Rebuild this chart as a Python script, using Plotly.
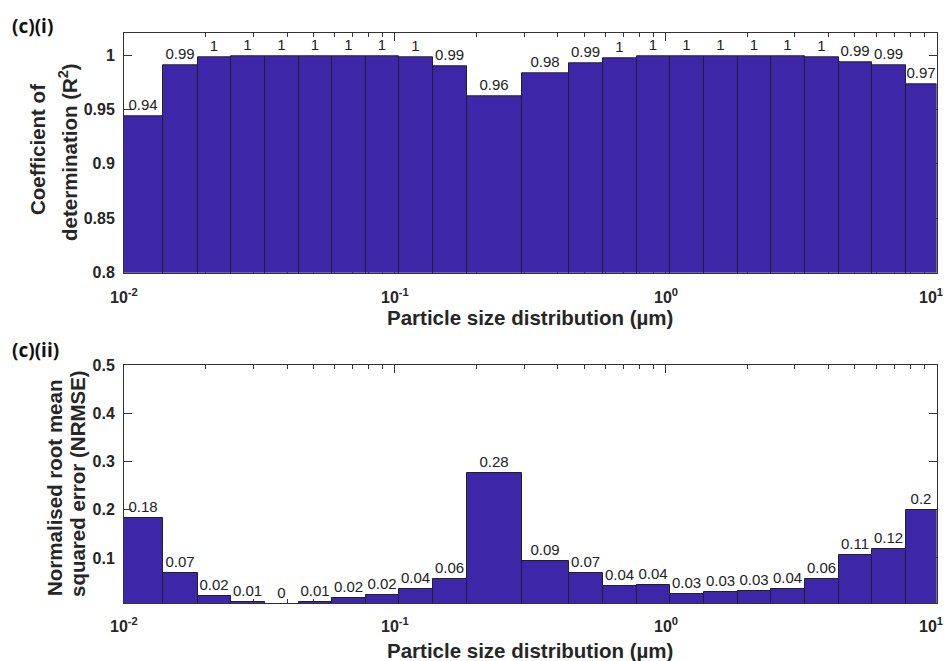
import math
import plotly.graph_objects as go

# ---------------- data ----------------
BIN_EDGES_UM = [0.01, 0.01396, 0.01872, 0.0249, 0.03317, 0.04417, 0.05878, 0.07828,
                0.1039, 0.1384, 0.1843, 0.2942, 0.4398, 0.5872, 0.7823, 1.041,
                1.386, 1.846, 2.457, 3.272, 4.357, 5.784, 7.701, 10.0]

R2_VALUES = [0.944, 0.991, 0.998, 0.999, 0.999, 0.999, 0.999, 0.999, 0.998, 0.990,
             0.962, 0.983, 0.992, 0.997, 0.999, 0.999, 0.999, 0.999, 0.999, 0.998,
             0.993, 0.991, 0.973]

NRMSE_VALUES = [0.182, 0.068, 0.021, 0.008, 0.004, 0.008, 0.016, 0.023, 0.036, 0.056,
                0.276, 0.093, 0.069, 0.042, 0.044, 0.026, 0.030, 0.032, 0.036, 0.056,
                0.106, 0.118, 0.199]

X_TICK_VALS = [0.01, 0.1, 1, 10]
X_TICK_TEXT = ["10<sup>-2</sup>", "10<sup>-1</sup>", "10<sup>0</sup>", "10<sup>1</sup>"]
R2_TICK_VALS = [0.8, 0.85, 0.9, 0.95, 1.0]
R2_TICK_TEXT = ["0.8", "0.85", "0.9", "0.95", "1"]
NRMSE_TICK_VALS = [0.1, 0.2, 0.3, 0.4, 0.5]
NRMSE_TICK_TEXT = ["0.1", "0.2", "0.3", "0.4", "0.5"]
X_MINOR_TICKS = [m * 10.0 ** e for e in (-2, -1, 0) for m in range(2, 10)]

X_TITLE = "Particle size distribution (µm)"
# ----------------------------------------------------------------

BAR_COLOR = "#3E26A8"
EDGE_COLOR = "#1f1f2e"
AXIS_COLOR = "#333333"
TEXT_COLOR = "#262626"
FONT = "Liberation Sans"

lefts = BIN_EDGES_UM[:-1]
widths = [b - a for a, b in zip(BIN_EDGES_UM[:-1], BIN_EDGES_UM[1:])]


def fmt(v):
    return f"{v:.2f}".rstrip("0").rstrip(".")


fig = go.Figure()
for vals, xa, ya in ((R2_VALUES, "x", "y"), (NRMSE_VALUES, "x2", "y2")):
    fig.add_trace(go.Bar(
        x=lefts, y=vals, width=widths, offset=0,
        marker=dict(color=BAR_COLOR, line=dict(color=EDGE_COLOR, width=1)),
        text=[fmt(v) for v in vals], textposition="outside",
        textfont=dict(family=FONT, size=15, color="#222222"),
        constraintext="none", cliponaxis=True,
        xaxis=xa, yaxis=ya, showlegend=False, hoverinfo="x+y",
    ))

# The page body has an 8px margin, so the figure is drawn 8px in from the
# window corner; size the figure to fill the rest of the 951x661 window.
OFF = 8
W, H = 951 - OFF, 661 - OFF


def px_x(p):
    return (p - OFF) / W


def px_y(p):
    return 1 - (p - OFF) / H


xdom = [px_x(124), px_x(936.5)]
top_dom = [px_y(272.7), px_y(33.3)]
bot_dom = [px_y(603.3), px_y(365)]

common_x = dict(
    type="log", range=[-2, 1], domain=xdom, automargin=False,
    showline=True, linecolor=AXIS_COLOR, linewidth=1, mirror="ticks",
    ticks="inside", ticklen=8, tickwidth=1, tickcolor=AXIS_COLOR,
    tickmode="array", tickvals=X_TICK_VALS, ticktext=X_TICK_TEXT,
    showticklabels=False,
    minor=dict(tickmode="array", tickvals=X_MINOR_TICKS, ticks="inside",
               ticklen=4, tickwidth=1, tickcolor=AXIS_COLOR, showgrid=False),
    showgrid=False, zeroline=False, layer="below traces",
)
common_y = dict(
    automargin=False,
    showline=True, linecolor=AXIS_COLOR, linewidth=1, mirror="ticks",
    ticks="inside", ticklen=8, tickwidth=1, tickcolor=AXIS_COLOR,
    tickmode="array",
    tickfont=dict(family=FONT, size=16, color=TEXT_COLOR, weight="bold"),
    showgrid=False, zeroline=False, layer="below traces", ticklabelstandoff=5,
)

fig.update_layout(
    width=W, height=H,
    margin=dict(l=0, r=0, t=0, b=0, autoexpand=False),
    paper_bgcolor="white", plot_bgcolor="white",
    bargap=0,
    xaxis=dict(common_x, anchor="y"),
    yaxis=dict(common_y, anchor="x", domain=top_dom, range=[0.8, 1.02],
               tickvals=R2_TICK_VALS, ticktext=R2_TICK_TEXT),
    xaxis2=dict(common_x, anchor="y2"),
    yaxis2=dict(common_y, anchor="x2", domain=bot_dom, range=[0.006, 0.5],
                tickvals=NRMSE_TICK_VALS, ticktext=NRMSE_TICK_TEXT),
)

title_font = dict(family=FONT, size=20.5, color=TEXT_COLOR, weight="bold")
tick_font = dict(family=FONT, size=16, color=TEXT_COLOR, weight="bold")
panel_font = dict(family="Open Sans", size=19, color="#111111", weight="bold")

annotations = [
    dict(text="(c)(i)", x=px_x(10), y=px_y(26), xanchor="left", yanchor="middle",
         font=panel_font),
    dict(text="(c)(ii)", x=px_x(10), y=px_y(350), xanchor="left", yanchor="middle",
         font=panel_font),
    dict(text=X_TITLE, x=px_x(530), y=px_y(318), xanchor="center", yanchor="middle",
         font=title_font),
    dict(text=X_TITLE, x=px_x(530), y=px_y(650), xanchor="center", yanchor="middle",
         font=title_font),
    dict(text="Coefficient of", x=px_x(38), y=px_y(150), textangle=-90,
         xanchor="center", yanchor="middle", font=title_font),
    dict(text="determination (R<sup>2</sup>)", x=px_x(68), y=px_y(152), textangle=-90,
         xanchor="center", yanchor="middle", font=title_font),
    dict(text="Normalised root mean", x=px_x(54), y=px_y(488), textangle=-90,
         xanchor="center", yanchor="middle", font=title_font),
    dict(text="squared error (NRMSE)", x=px_x(77), y=px_y(484), textangle=-90,
         xanchor="center", yanchor="middle", font=title_font),
]
for a in annotations:
    a.update(xref="paper", yref="paper", showarrow=False)

# x tick labels, placed on the log axes at the tick values
for xref, label_y in (("x", 296), ("x2", 625)):
    for v, t in zip(X_TICK_VALS, X_TICK_TEXT):
        annotations.append(dict(
            text=t, x=math.log10(v), xref=xref, y=px_y(label_y), yref="paper",
            xanchor="center", yanchor="middle", showarrow=False,
            xshift=-6 if v == X_TICK_VALS[-1] else 0, font=tick_font))

fig.update_layout(annotations=annotations)

fig.write_html("out.html")
